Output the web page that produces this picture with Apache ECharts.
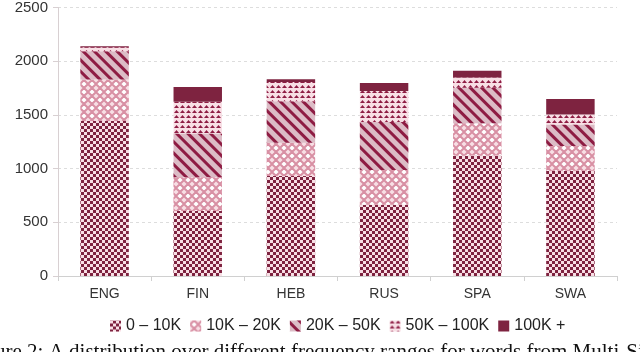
<!DOCTYPE html>
<html>
<head>
<meta charset="utf-8">
<script src="https://cdn.jsdelivr.net/npm/echarts@6/dist/echarts.min.js"></script>
<style>
  html, body { margin: 0; padding: 0; background: #fff; }
  #chart { width: 640px; height: 352px; }
</style>
</head>
<body>
<div id="chart"></div>
<script>
const languages = ['ENG', 'FIN', 'HEB', 'RUS', 'SPA', 'SWA'];
const rangeNames = ['0 – 10K', '10K – 20K', '20K – 50K', '50K – 100K', '100K +'];

const r0to10k = [1444, 605, 932, 664, 1123, 979];
const r10to20k = [386, 315, 309, 324, 300, 231];
const r20to50k = [263, 407, 386, 447, 330, 200];
const r50to100k = [37, 296, 179, 287, 96, 93];
const r100kPlus = [9, 136, 27, 74, 61, 145];

const yTicks = [0, 500, 1000, 1500, 2000, 2500];

const maroon = '#7e2340';
const pink = '#f8dfe5';

const styles = [
  { color: pink, decal: { symbol: 'rect', symbolSize: 1, dashArrayX: [[3, 3], [0, 3, 3, 0]], dashArrayY: [3, 0], color: maroon } },
  { color: pink, decal: { symbol: 'emptyDiamond', symbolSize: 1, dashArrayX: [[8, 0]], dashArrayY: [8, 0], color: '#d890a4' } },
  { color: '#dcbcc6', decal: { symbol: 'rect', symbolSize: 1, dashArrayX: [1, 0], dashArrayY: [3, 5], rotation: Math.PI / 4, color: '#8e1c43' } },
  { color: pink, decal: { symbol: 'triangle', symbolSize: 1, dashArrayX: [[5, 1]], dashArrayY: [3, 2], color: '#8e1c43' } },
  { color: maroon, decal: null }
];

const seriesData = [r0to10k, r10to20k, r20to50k, r50to100k, r100kPlus];

const chart = echarts.init(document.getElementById('chart'));
chart.setOption({
  animation: false,
  grid: { left: 58, right: 23, top: 6, bottom: 76 },
  legend: {
    bottom: 13,
    left: 105,
    itemWidth: 11,
    itemHeight: 11,
    itemGap: 9,
    icon: 'rect',
    textStyle: { fontFamily: 'Liberation Sans', fontSize: 16, color: '#222' },
    data: rangeNames
  },
  xAxis: {
    type: 'category',
    data: languages,
    axisLine: { lineStyle: { color: '#d0d0d0' } },
    axisTick: { show: true, length: 5, lineStyle: { color: '#d0d0d0' } },
    axisLabel: { fontFamily: 'Liberation Sans', fontSize: 14, color: '#333', margin: 11 }
  },
  yAxis: {
    type: 'value',
    min: 0,
    max: yTicks[yTicks.length - 1],
    interval: 500,
    axisLine: { show: true, lineStyle: { color: '#d8d0d2' } },
    axisTick: { show: true, length: 5, lineStyle: { color: '#d8d0d2' } },
    axisLabel: { fontFamily: 'Liberation Sans', fontSize: 15, color: '#333', margin: 10, formatter: v => String(v) },
    splitLine: { lineStyle: { color: '#dddddd', type: [3, 3] } }
  },
  series: seriesData.map((vals, i) => ({
    name: rangeNames[i],
    type: 'bar',
    stack: 'total',
    barWidth: '52%',
    data: vals,
    itemStyle: { color: styles[i].color, decal: styles[i].decal }
  })),
  graphic: [{
    type: 'text',
    left: -33,
    top: 342,
    style: {
      text: 'Figure 2: A distribution over different frequency ranges for words from Multi-SimLex',
      font: '21px "Liberation Serif"',
      fill: '#111'
    }
  }]
});
</script>
</body>
</html>
